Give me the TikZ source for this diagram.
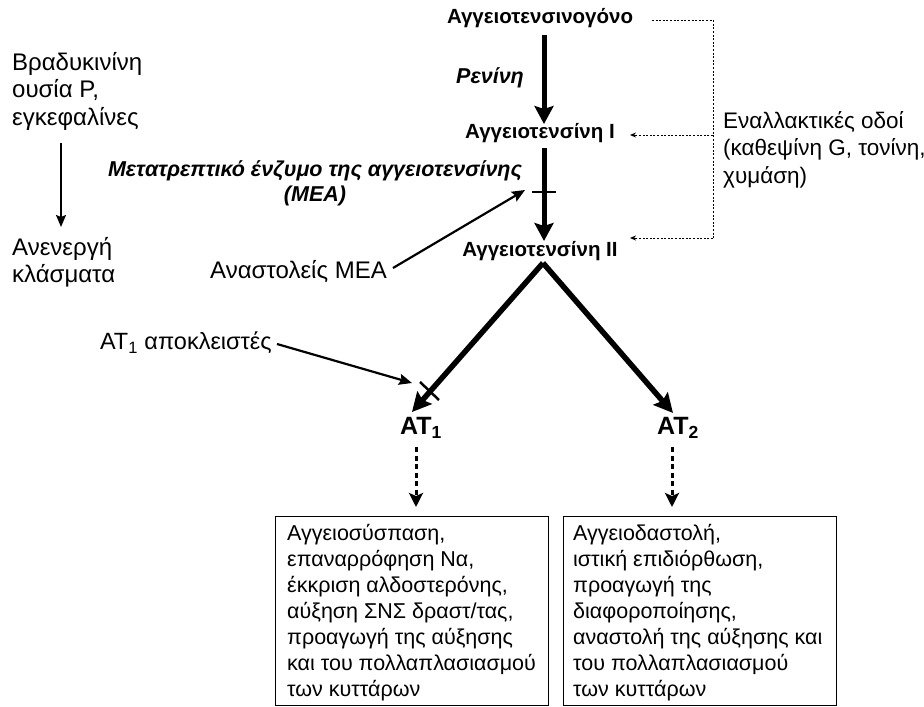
\documentclass[tikz,border=0pt]{standalone}
\usepackage{fontspec}
\setmainfont{Liberation Sans}
\usetikzlibrary{arrows.meta}
\begin{document}
\begin{tikzpicture}[x=1pt,y=-1pt,
  lbl/.style={inner sep=0pt,align=left,font=\fontsize{24}{27.5}\selectfont},
  bl/.style={inner sep=0pt,font=\fontsize{20.5}{22}\selectfont\bfseries},
  bil/.style={inner sep=0pt,align=center,font=\fontsize{21.5}{25}\selectfont\bfseries\itshape},
  atl/.style={inner sep=0pt,font=\fontsize{25}{26}\selectfont\bfseries},
  boxn/.style={draw,line width=1pt,minimum width=273pt,minimum height=189pt,inner sep=0pt,anchor=north west},
  boxt/.style={inner sep=0pt,align=left,anchor=north west,font=\fontsize{21.5}{26}\selectfont},
  bigarr/.style={line width=5pt,-{Stealth[length=18pt,width=19pt,inset=3pt]}},
  vee/.style={line width=5.5pt,-{Stealth[length=19pt,width=19pt,inset=3pt]}},
  thinarr/.style={line width=2.2pt,-{Stealth[length=13pt,width=11pt,inset=2pt]}},
  dotarr/.style={line width=3pt,dash pattern=on 5pt off 3.5pt,-{Stealth[length=14pt,width=14pt,inset=3pt]}},
  altline/.style={line width=1pt,dash pattern=on 2pt off 1.6pt},
  tbar/.style={line width=2.5pt}]
\useasboundingbox (0,0) rectangle (924,707);

% main chain
\node[bl] (agt) at (540,18) {Αγγειοτενσινογόνο};
\node[bl] (ang1) at (540,133) {Αγγειοτενσίνη I};
\node[bl] (ang2) at (540,251) {Αγγειοτενσίνη II};
\node[bil] (ren) at (490,78) {Ρενίνη};
\node[bil] (mea) at (315,183) {Μετατρεπτικό ένζυμο της αγγειοτενσίνης\\(ΜΕΑ)};

\coordinate (a1) at (544,35);
\coordinate (a1e) at (544,124);
\draw[bigarr] (a1) -- (a1e);
\coordinate (a2) at (544,148);
\coordinate (a2e) at (544,241);
\draw[bigarr] (a2) -- (a2e);
\coordinate (cb1) at (532,192);
\coordinate (cb2) at (556,192);
\draw[tbar] (cb1) -- (cb2);

\node[lbl,anchor=east] (aceinh) at (387,272) {Αναστολείς ΜΕΑ};
\coordinate (acest) at (393,268);
\coordinate (aceend) at (525,190);
\draw[thinarr] (acest) -- (aceend);

% split
\coordinate (apex) at (543,263);
\node[atl] (at1) at (421,428) {AT\textsubscript{1}};
\node[atl] (at2) at (678,428) {AT\textsubscript{2}};
\coordinate (at1e) at (412,412);
\coordinate (at2e) at (673,413);
\draw[vee] (apex) -- (at1e);
\draw[vee] (apex) -- (at2e);
\coordinate (x1) at (420,382);
\coordinate (x2) at (439,400);
\draw[tbar] (x1) -- (x2);

\node[lbl,anchor=east,font=\fontsize{23.5}{26}\selectfont] (at1b) at (272,343) {AT\textsubscript{1} αποκλειστές};
\coordinate (at1bst) at (277,344);
\coordinate (at1bend) at (412,383);
\draw[thinarr] (at1bst) -- (at1bend);

% boxes
\node[boxn] (box1) at (275,516) {};
\node[boxn] (box2) at (563,516) {};
\node[boxt] (t1) at (287,524) {Αγγειοσύσπαση,\\επαναρρόφηση Να,\\έκκριση αλδοστερόνης,\\αύξηση ΣΝΣ δραστ/τας,\\προαγωγή της αύξησης\\και του πολλαπλασιασμού\\των κυττάρων};
\node[boxt] (t2) at (573,524) {Αγγειοδαστολή,\\ιστική επιδιόρθωση,\\προαγωγή της\\διαφοροποίησης,\\αναστολή της αύξησης και\\του πολλαπλασιασμού\\των κυττάρων};

\coordinate (d1s) at (416,447);
\coordinate (d1e) at (416,507);
\draw[dotarr] (d1s) -- (d1e);
\coordinate (d2s) at (672,447);
\coordinate (d2e) at (672,507);
\draw[dotarr] (d2s) -- (d2e);

% left side
\node[lbl,anchor=north west] (brady) at (12,52) {Βραδυκινίνη\\ουσία P,\\εγκεφαλίνες};
\node[lbl,anchor=north west] (inact) at (12,237) {Ανενεργή\\κλάσματα};
\coordinate (b1) at (61,143);
\coordinate (b2) at (61,227);
\draw[line width=1.5pt,-{Stealth[length=12pt,width=10pt,inset=2pt]}] (b1) -- (b2);

% alternative pathways
\node[lbl,anchor=north west,font=\fontsize{22.5}{27.5}\selectfont] (alt) at (723,111) {Εναλλακτικές οδοί\\(καθεψίνη G, τονίνη,\\χυμάση)};
\coordinate (r0) at (652,20);
\coordinate (r1) at (713,20);
\coordinate (r2) at (713,135);
\coordinate (r3) at (713,238);
\coordinate (r2e) at (630,135);
\coordinate (r3e) at (630,238);
\draw[altline] (r0) -- (r1) -- (r3);
\draw[altline,-{Stealth[length=6pt,width=5pt]}] (r2) -- (r2e);
\draw[altline,-{Stealth[length=6pt,width=5pt]}] (r3) -- (r3e);
\end{tikzpicture}
\end{document}
